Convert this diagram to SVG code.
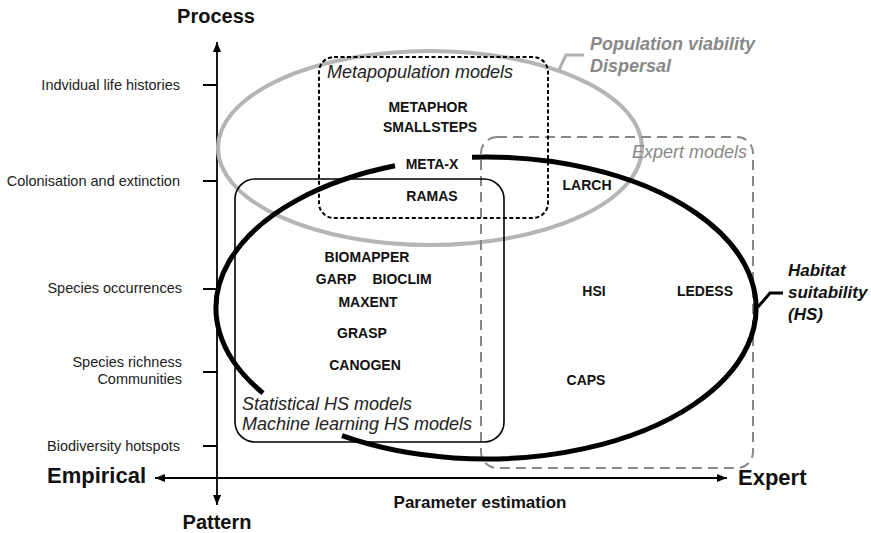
<svg xmlns="http://www.w3.org/2000/svg" width="871" height="533" viewBox="0 0 871 533">
<defs>
<marker id="arr" viewBox="0 0 10 10" refX="10" refY="5" markerWidth="10" markerHeight="10" markerUnits="userSpaceOnUse" orient="auto-start-reverse">
<path d="M0,1 L10,5 L0,9 Z" fill="#000"/>
</marker>
<style>
text{font-family:"Liberation Sans",Arial,sans-serif;fill:#111}
.ax{font-size:20px;font-weight:bold}
.tk{font-size:14.5px;text-anchor:end;fill:#222}
.mdl{font-size:14px;font-weight:bold;text-anchor:middle}
.it{font-size:18px;font-style:italic;fill:#222}
.git{font-size:18px;font-style:italic;fill:#888}
.gbi{font-size:18px;font-style:italic;font-weight:bold;fill:#888}
.bi{font-size:17px;font-style:italic;font-weight:bold;fill:#111}
.line{stroke:#000;stroke-width:1.8;fill:none}
</style>
</defs>
<rect width="871" height="533" fill="#fff"/>

<g id="connectors">
<line class="line" x1="217" y1="505" x2="217" y2="42" marker-end="url(#arr)" marker-start="url(#arr)"/>
<line class="line" x1="155" y1="478" x2="727" y2="478" marker-end="url(#arr)" marker-start="url(#arr)"/>
<g stroke="#000" stroke-width="2">
<line x1="203" y1="85" x2="217" y2="85"/>
<line x1="203" y1="181" x2="217" y2="181"/>
<line x1="203" y1="289" x2="217" y2="289"/>
<line x1="203" y1="372" x2="217" y2="372"/>
<line x1="203" y1="446" x2="217" y2="446"/>
</g>
<polyline points="558,72 566,55 584,55" fill="none" stroke="#b0b0b0" stroke-width="3"/>
<polyline points="758,307 770,293 783,293" fill="none" stroke="#000" stroke-width="3"/>
</g>

<g id="axis-labels">
<text class="ax" x="216" y="23" text-anchor="middle">Process</text>
<text class="ax" x="217" y="529" text-anchor="middle">Pattern</text>
<text class="ax" x="47" y="483" style="font-size:22px">Empirical</text>
<text class="ax" x="738" y="485" style="font-size:22px">Expert</text>
<text x="480" y="508" text-anchor="middle" style="font-size:17px;font-weight:bold">Parameter estimation</text>
<text class="tk" x="180" y="90">Indvidual life histories</text>
<text class="tk" x="180" y="186">Colonisation and extinction</text>
<text class="tk" x="182" y="293">Species occurrences</text>
<text class="tk" x="182" y="367">Species richness</text>
<text class="tk" x="182" y="384">Communities</text>
<text class="tk" x="180" y="451">Biodiversity hotspots</text>
</g>

<g id="population-viability">
<ellipse cx="430" cy="148" rx="212" ry="97" fill="none" stroke="#b5b5b5" stroke-width="4"/>
<text class="gbi" x="590" y="50">Population viability</text>
<text class="gbi" x="590" y="72">Dispersal</text>
</g>

<g id="expert-models">
<rect x="481" y="137" width="272" height="331" rx="16" fill="none" stroke="#888" stroke-width="2" stroke-dasharray="10,6"/>
<text class="git" x="632" y="158">Expert models</text>
<text class="mdl" x="587" y="190">LARCH</text>
<text class="mdl" x="594" y="296">HSI</text>
<text class="mdl" x="705" y="296">LEDESS</text>
<text class="mdl" x="586" y="385">CAPS</text>
</g>

<g id="metapopulation-models">
<rect x="319" y="57" width="229" height="161" rx="15" fill="none" stroke="#000" stroke-width="2" stroke-dasharray="4,2.5"/>
<text class="it" x="327" y="78">Metapopulation models</text>
<text class="mdl" x="428" y="112">METAPHOR</text>
<text class="mdl" x="430" y="132">SMALLSTEPS</text>
<text class="mdl" x="432" y="169">META-X</text>
<text class="mdl" x="432" y="201">RAMAS</text>
</g>

<g id="statistical-models">
<rect x="235" y="179" width="269" height="263" rx="20" fill="none" stroke="#000" stroke-width="1.6"/>
<text class="mdl" x="367" y="262">BIOMAPPER</text>
<text class="mdl" x="336" y="284">GARP</text>
<text class="mdl" x="402" y="284">BIOCLIM</text>
<text class="mdl" x="368" y="307">MAXENT</text>
<text class="mdl" x="362" y="338">GRASP</text>
<text class="mdl" x="365" y="370">CANOGEN</text>
<text class="it" x="242" y="410">Statistical HS models</text>
<text class="it" x="242" y="430">Machine learning HS models</text>
</g>

<g id="habitat-suitability">
<path d="M472,157.2 A270,151 0 1 1 342,435.7 M263,393.1 A270,151 0 0 1 395,165.8" fill="none" stroke="#000" stroke-width="5"/>
<text class="bi" x="788" y="276">Habitat</text>
<text class="bi" x="788" y="298">suitability</text>
<text class="bi" x="788" y="320">(HS)</text>
</g>
</svg>
